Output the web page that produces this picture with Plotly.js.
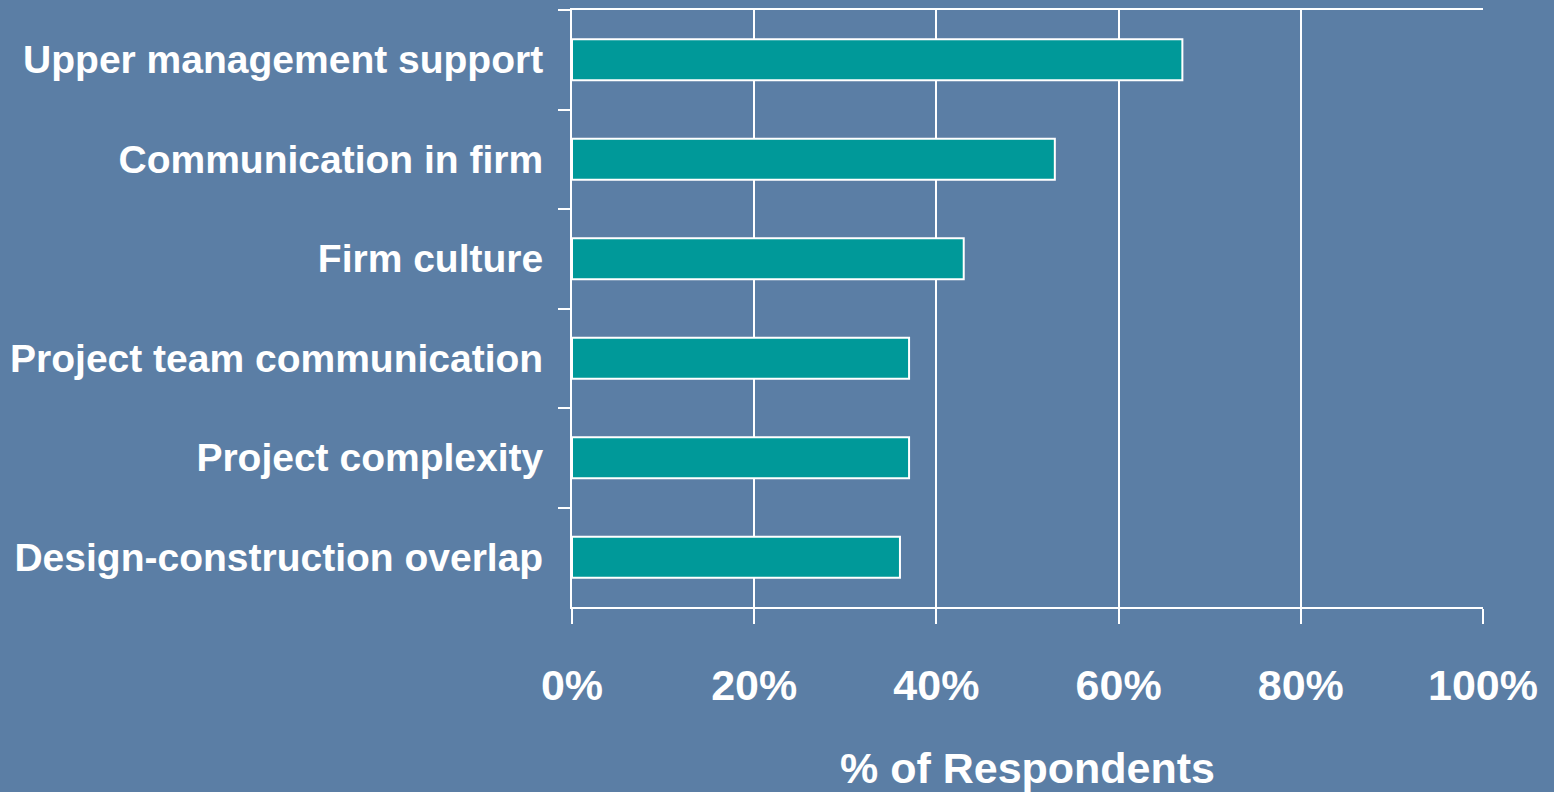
<!DOCTYPE html>
<html>
<head>
<meta charset="utf-8">
<script src="https://cdn.plot.ly/plotly-3.0.1.min.js"></script>
<style>
html,body{margin:0;padding:0;background:#5b7ea5;}
#chart{width:1554px;height:792px;}
</style>
</head>
<body>
<div id="chart"></div>
<script>
const categories = [
  "Upper management support",
  "Communication in firm",
  "Firm culture",
  "Project team communication",
  "Project complexity",
  "Design-construction overlap"
];
const respondentsPct = [67, 53, 43, 37, 37, 36];
const xTickValues = [0, 20, 40, 60, 80, 100];
const xTickLabels = ["0%", "20%", "40%", "60%", "80%", "100%"];

const trace = {
  type: "bar",
  orientation: "h",
  y: categories,
  x: respondentsPct,
  marker: {color: "#009999", line: {color: "#ffffff", width: 2}},
  hoverinfo: "x+y"
};

const layout = {
  width: 1554,
  height: 792,
  paper_bgcolor: "#5b7ea5",
  plot_bgcolor: "rgba(0,0,0,0)",
  margin: {l: 572, r: 71, t: 10, b: 185},
  bargap: 0.59,
  showlegend: false,
  font: {family: "Liberation Sans, Arial, sans-serif", color: "#ffffff"},
  xaxis: {
    range: [0, 100],
    tickvals: xTickValues,
    ticktext: xTickLabels,
    showgrid: true,
    gridcolor: "#ffffff",
    gridwidth: 2,
    zeroline: false,
    showline: true,
    linecolor: "#ffffff",
    linewidth: 2,
    mirror: true,
    ticks: "outside",
    ticklen: 15,
    tickwidth: 2,
    tickcolor: "#ffffff",
    ticklabelstandoff: 24,
    tickfont: {size: 43, color: "#ffffff", family: "Liberation Sans, Arial, sans-serif", weight: "bold"},
    title: {
      text: "% of Respondents",
      standoff: 46,
      font: {size: 43, color: "#ffffff", family: "Liberation Sans, Arial, sans-serif", weight: "bold"}
    },
    fixedrange: true
  },
  yaxis: {
    autorange: "reversed",
    showgrid: false,
    zeroline: false,
    showline: true,
    linecolor: "#ffffff",
    linewidth: 2,
    ticks: "outside",
    tickson: "boundaries",
    ticklen: 12,
    tickwidth: 2,
    tickcolor: "#ffffff",
    ticklabelstandoff: 19,
    tickfont: {size: 39, color: "#ffffff", family: "Liberation Sans, Arial, sans-serif", weight: "bold"},
    fixedrange: true
  }
};

Plotly.newPlot("chart", [trace], layout, {displayModeBar: false, staticPlot: true});
</script>
</body>
</html>
